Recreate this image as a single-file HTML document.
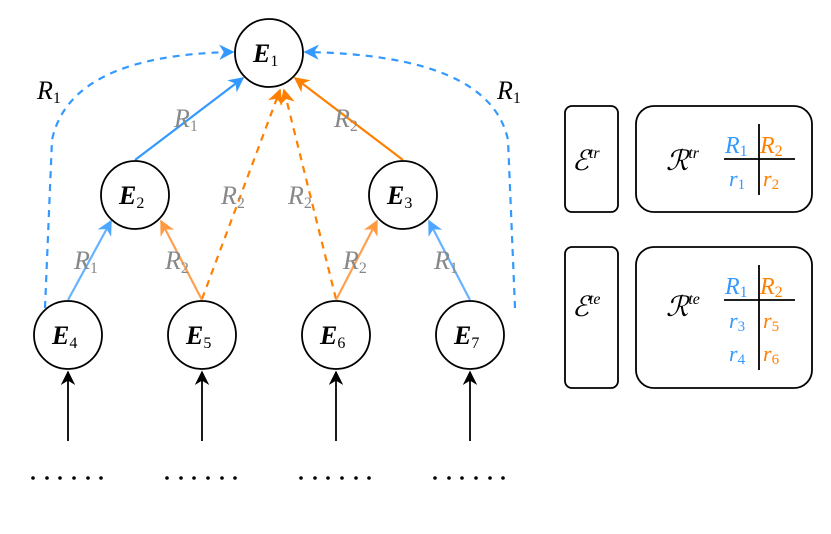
<!DOCTYPE html>
<html><head><style>
html,body{margin:0;padding:0;background:#fff;}
svg{display:block;}
text{font-family:"Liberation Serif",serif;font-style:italic;}
tspan.s{font-style:normal;}
</style></head><body>
<svg width="831" height="534" viewBox="0 0 831 534" xmlns="http://www.w3.org/2000/svg">
<defs>
<marker id="ab" viewBox="0 0 10 10" refX="9" refY="5" markerWidth="7" markerHeight="7" orient="auto"><path d="M0,0 L10,5 L0,10 L3,5 z" fill="#3399ff"/></marker>
<marker id="ao" viewBox="0 0 10 10" refX="9" refY="5" markerWidth="7" markerHeight="7" orient="auto"><path d="M0,0 L10,5 L0,10 L3,5 z" fill="#ff8000"/></marker>
<marker id="alo" viewBox="0 0 10 10" refX="9" refY="5" markerWidth="7" markerHeight="7" orient="auto"><path d="M0,0 L10,5 L0,10 L3,5 z" fill="#ff9a40"/></marker>
<marker id="alb" viewBox="0 0 10 10" refX="9" refY="5" markerWidth="7" markerHeight="7" orient="auto"><path d="M0,0 L10,5 L0,10 L3,5 z" fill="#4da6ff"/></marker>
<marker id="ak" viewBox="0 0 10 10" refX="9" refY="5" markerWidth="8" markerHeight="8" orient="auto"><path d="M0,0 L10,5 L0,10 L3,5 z" fill="#000"/></marker>
</defs>
<g fill="none" stroke-width="2.2">
<path d="M45,308 L52,140 Q70,55 233,52" stroke="#3399ff" stroke-dasharray="7,6" marker-end="url(#ab)"/>
<path d="M515,308 L508,140 Q490,55 305,52" stroke="#3399ff" stroke-dasharray="7,6" marker-end="url(#ab)"/>
<path d="M135,160 L243,78" stroke="#3399ff" marker-end="url(#ab)"/>
<path d="M403,160 L295,78" stroke="#ff8000" marker-end="url(#ao)"/>
<path d="M202,299 L280,90" stroke="#ff8000" stroke-dasharray="7,6" marker-end="url(#ao)"/>
<path d="M336,299 L284,90" stroke="#ff8000" stroke-dasharray="7,6" marker-end="url(#ao)"/>
<path d="M68,300 L111,221" stroke="#66b3ff" marker-end="url(#alb)"/>
<path d="M202,300 L161,221" stroke="#ffa050" marker-end="url(#alo)"/>
<path d="M336,300 L377,221" stroke="#ffa050" marker-end="url(#alo)"/>
<path d="M470,300 L429,221" stroke="#66b3ff" marker-end="url(#alb)"/>
<g stroke="#000" stroke-width="1.8">
<path d="M68,441 L68,372" marker-end="url(#ak)"/>
<path d="M202,441 L202,372" marker-end="url(#ak)"/>
<path d="M336,441 L336,372" marker-end="url(#ak)"/>
<path d="M470,441 L470,372" marker-end="url(#ak)"/>
</g>
</g>
<g fill="#fff" stroke="#000" stroke-width="1.8">
<circle cx="269" cy="53" r="34"/>
<circle cx="135" cy="195" r="34"/>
<circle cx="403" cy="195" r="34"/>
<circle cx="68" cy="335" r="34"/>
<circle cx="202" cy="335" r="34"/>
<circle cx="336" cy="335" r="34"/>
<circle cx="470" cy="335" r="34"/>
</g>
<g font-size="26" fill="#000" font-weight="bold">
<text x="253" y="62">E<tspan class="s" font-size="16" font-weight="normal" dy="4">1</tspan></text>
<text x="119" y="204">E<tspan class="s" font-size="16" font-weight="normal" dy="4">2</tspan></text>
<text x="387" y="204">E<tspan class="s" font-size="16" font-weight="normal" dy="4">3</tspan></text>
<text x="52" y="344">E<tspan class="s" font-size="16" font-weight="normal" dy="4">4</tspan></text>
<text x="186" y="344">E<tspan class="s" font-size="16" font-weight="normal" dy="4">5</tspan></text>
<text x="320" y="344">E<tspan class="s" font-size="16" font-weight="normal" dy="4">6</tspan></text>
<text x="454" y="344">E<tspan class="s" font-size="16" font-weight="normal" dy="4">7</tspan></text>
<text x="37" y="99" font-weight="normal">R<tspan class="s" font-size="16" dy="4">1</tspan></text>
<text x="497" y="99" font-weight="normal">R<tspan class="s" font-size="16" dy="4">1</tspan></text>
</g>
<g font-size="26" fill="#888">
<text x="174" y="127">R<tspan class="s" font-size="16" dy="4">1</tspan></text>
<text x="334" y="127">R<tspan class="s" font-size="16" dy="4">2</tspan></text>
<text x="221" y="204">R<tspan class="s" font-size="16" dy="4">2</tspan></text>
<text x="288" y="204">R<tspan class="s" font-size="16" dy="4">2</tspan></text>
<text x="74" y="269">R<tspan class="s" font-size="16" dy="4">1</tspan></text>
<text x="165" y="269">R<tspan class="s" font-size="16" dy="4">2</tspan></text>
<text x="343" y="269">R<tspan class="s" font-size="16" dy="4">2</tspan></text>
<text x="434" y="269">R<tspan class="s" font-size="16" dy="4">1</tspan></text>
</g>
<g fill="#000">
<g id="d"><circle cx="33" cy="478" r="1.8"/><circle cx="47" cy="478" r="1.8"/><circle cx="60" cy="478" r="1.8"/><circle cx="74" cy="478" r="1.8"/><circle cx="88" cy="478" r="1.8"/><circle cx="101" cy="478" r="1.8"/></g>
<use href="#d" x="134"/><use href="#d" x="268"/><use href="#d" x="402"/>
</g>
<g fill="none" stroke="#000" stroke-width="1.8">
<rect x="565" y="106" width="53" height="106" rx="7"/>
<rect x="636" y="106" width="176" height="106" rx="18"/>
<rect x="565" y="247" width="53" height="141" rx="7"/>
<rect x="636" y="247" width="176" height="141" rx="18"/>
<path d="M759,124 L759,195 M724,159 L795,159"/>
<path d="M759,265 L759,370 M724,300 L795,300"/>
</g>
<g font-size="28">
<text x="572" y="170">ℰ<tspan font-size="16" dy="-12">tr</tspan></text>
<text x="572" y="316">ℰ<tspan font-size="16" dy="-12">te</tspan></text>
<text x="666" y="170">ℛ<tspan font-size="16" dy="-12">tr</tspan></text>
<text x="666" y="316">ℛ<tspan font-size="16" dy="-12">te</tspan></text>
</g>
<g font-size="24">
<text x="725" y="153" fill="#3399ff">R<tspan class="s" font-size="16" dy="3">1</tspan></text>
<text x="760" y="153" fill="#ff8000">R<tspan class="s" font-size="16" dy="3">2</tspan></text>
<text x="729" y="186" font-size="22" fill="#3399ff">r<tspan class="s" font-size="15" dy="3">1</tspan></text>
<text x="763" y="186" font-size="22" fill="#ff8000">r<tspan class="s" font-size="15" dy="3">2</tspan></text>
<text x="725" y="294" fill="#3399ff">R<tspan class="s" font-size="16" dy="3">1</tspan></text>
<text x="760" y="294" fill="#ff8000">R<tspan class="s" font-size="16" dy="3">2</tspan></text>
<text x="729" y="328" font-size="22" fill="#3399ff">r<tspan class="s" font-size="15" dy="3">3</tspan></text>
<text x="763" y="328" font-size="22" fill="#ff8000">r<tspan class="s" font-size="15" dy="3">5</tspan></text>
<text x="729" y="361" font-size="22" fill="#3399ff">r<tspan class="s" font-size="15" dy="3">4</tspan></text>
<text x="763" y="361" font-size="22" fill="#ff8000">r<tspan class="s" font-size="15" dy="3">6</tspan></text>
</g>
</svg>
</body></html>
